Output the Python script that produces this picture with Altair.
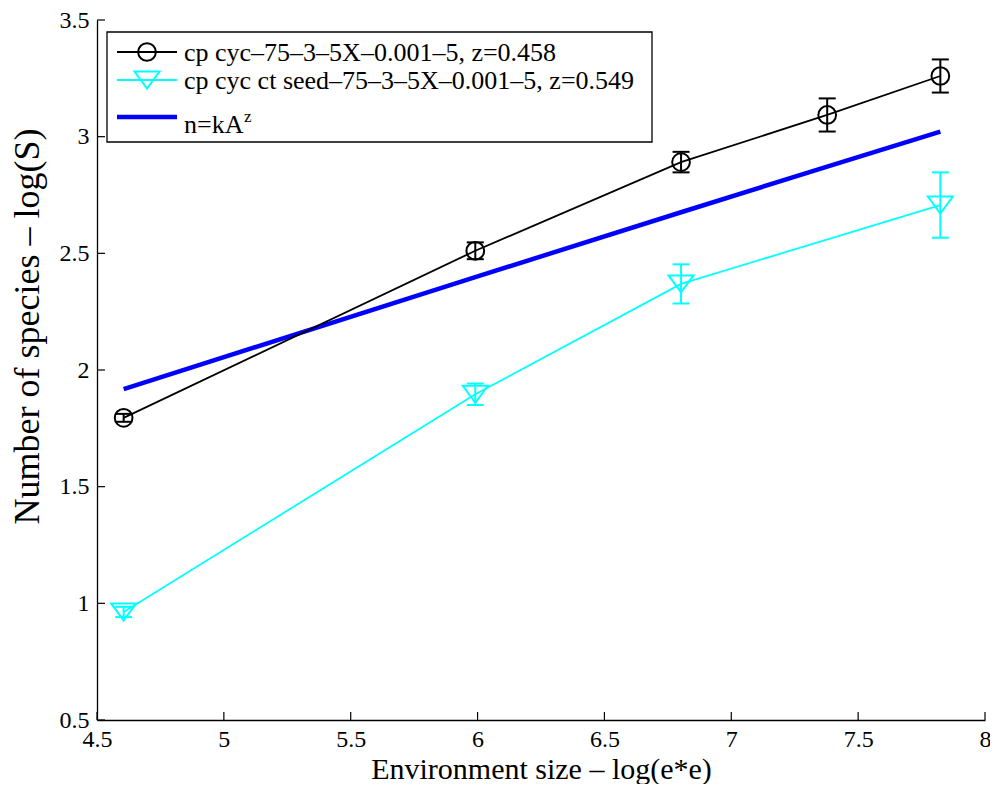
import altair as alt
import pandas as pd

# ---- data ----
x_env = [4.605, 5.991, 6.802, 7.378, 7.824]
cp_cyc = [1.795, 2.511, 2.891, 3.093, 3.260]
cp_cyc_err = [0.017, 0.036, 0.044, 0.071, 0.071]

x_seed = [4.605, 5.991, 6.802, 7.824]
cp_seed = [0.963, 1.896, 2.369, 2.707]
cp_seed_err = [0.022, 0.046, 0.084, 0.140]

fit_line = [1.918, 2.398, 2.676, 2.872, 3.022]

x_ticks = [4.5, 5, 5.5, 6, 6.5, 7, 7.5, 8]
y_ticks = [0.5, 1, 1.5, 2, 2.5, 3, 3.5]

legend_labels = [
    "cp cyc\u201375\u20133\u20135X\u20130.001\u20135, z=0.458",
    "cp cyc ct seed\u201375\u20133\u20135X\u20130.001\u20135, z=0.549",
    "n=kA",
]
x_title = "Environment size \u2013 log(e*e)"
y_title = "Number of species \u2013 log(S)"

FONT = "Liberation Serif"
W, H = 888, 700
CYAN = "#00FFFF"
BLUE = "#0000FF"
TRI = "M-1,-0.68L1,-0.68L0,0.68Z"

black_df = pd.DataFrame({
    "x": x_env, "y": cp_cyc,
    "lo": [v - e for v, e in zip(cp_cyc, cp_cyc_err)],
    "hi": [v + e for v, e in zip(cp_cyc, cp_cyc_err)],
})
cyan_df = pd.DataFrame({
    "x": x_seed, "y": cp_seed,
    "lo": [v - e for v, e in zip(cp_seed, cp_seed_err)],
    "hi": [v + e for v, e in zip(cp_seed, cp_seed_err)],
})
fit_df = pd.DataFrame({"x": x_env, "y": fit_line})
xt_df = pd.DataFrame({"x": x_ticks})
yt_df = pd.DataFrame({"y": y_ticks})
dummy = pd.DataFrame({"a": [0]})

x_scale = alt.Scale(domain=[4.5, 8], nice=False, zero=False)
y_scale = alt.Scale(domain=[0.5, 3.5], nice=False, zero=False)

x_axis = alt.Axis(
    values=x_ticks, format="~g", grid=False, ticks=False, tickSize=0,
    labelFont=FONT, labelFontSize=24, labelColor="black", labelPadding=26,
    labelBaseline="alphabetic", labelFlush=False, labelOverlap=False,
    domainColor="black", domainWidth=1.3,
    titleFont=FONT, titleFontSize=30, titleFontWeight="normal", titleColor="black",
    titleX=W / 2, titleY=58, titleAlign="center", titleBaseline="alphabetic",
)
y_axis = alt.Axis(
    values=y_ticks, format="~g", grid=False, ticks=False, tickSize=0,
    labelFont=FONT, labelFontSize=24, labelColor="black", labelPadding=8,
    labelBaseline="middle", labelAlign="right", labelFlush=False, labelOverlap=False,
    domainColor="black", domainWidth=1.3,
    titleFont=FONT, titleFontSize=36, titleFontWeight="normal", titleColor="black",
    titleAngle=270, titleX=-59, titleY=306, titleAlign="center", titleBaseline="alphabetic",
)


def X(field="x"):
    return alt.X(f"{field}:Q", scale=x_scale, axis=x_axis, title=x_title)


def Y(field="y"):
    return alt.Y(f"{field}:Q", scale=y_scale, axis=y_axis, title=y_title)


layers = []

# fitted power law
layers.append(alt.Chart(fit_df).mark_line(color=BLUE, strokeWidth=4.5).encode(x=X(), y=Y()))


def series(df, color, shape, size, lw):
    line = alt.Chart(df).mark_line(color=color, strokeWidth=lw).encode(x=X(), y=Y())
    bar = alt.Chart(df).mark_rule(color=color, strokeWidth=2).encode(
        x=X(), y=Y("lo"), y2="hi")
    cap_lo = alt.Chart(df).mark_tick(color=color, orient="horizontal", size=17,
                                     thickness=2, opacity=1).encode(x=X(), y=Y("lo"))
    cap_hi = alt.Chart(df).mark_tick(color=color, orient="horizontal", size=17,
                                     thickness=2, opacity=1).encode(x=X(), y=Y("hi"))
    pts = alt.Chart(df).mark_point(shape=shape, filled=False, size=size, strokeWidth=2,
                                   color=color, opacity=1).encode(x=X(), y=Y())
    return [line, bar, cap_lo, cap_hi, pts]


layers += series(black_df, "black", "circle", 314, 1.8)
layers += series(cyan_df, CYAN, TRI, 625, 1.8)

# inward axis ticks
layers.append(alt.Chart(xt_df).mark_rule(color="black", strokeWidth=1.2).encode(
    x=X(), y=alt.value(H), y2=alt.value(H - 8)))
layers.append(alt.Chart(yt_df).mark_rule(color="black", strokeWidth=1.2).encode(
    y=Y(), x=alt.value(0), x2=alt.value(8)))

# legend box
layers.append(alt.Chart(dummy).mark_rect(fill="white", stroke="black", strokeWidth=1.3).encode(
    x=alt.value(10), x2=alt.value(555), y=alt.value(12), y2=alt.value(122)))

leg_rows = [32, 60, 97]
leg_text_y = [41, 69, 113]
leg_colors = ["black", CYAN, BLUE]
for i in range(3):
    layers.append(alt.Chart(dummy).mark_rule(color=leg_colors[i],
                                             strokeWidth=4.5 if i == 2 else 1.8).encode(
        x=alt.value(20), x2=alt.value(80), y=alt.value(leg_rows[i])))
    layers.append(alt.Chart(dummy).mark_text(align="left", baseline="alphabetic", font=FONT,
                                             fontSize=26, color="black").encode(
        x=alt.value(87), y=alt.value(leg_text_y[i]), text=alt.value(legend_labels[i])))
layers.append(alt.Chart(dummy).mark_point(shape="circle", filled=False, size=314, strokeWidth=2,
                                          color="black", opacity=1).encode(
    x=alt.value(50), y=alt.value(leg_rows[0])))
layers.append(alt.Chart(dummy).mark_point(shape=TRI, filled=False, size=625, strokeWidth=2,
                                          color=CYAN, opacity=1).encode(
    x=alt.value(50), y=alt.value(leg_rows[1])))
layers.append(alt.Chart(dummy).mark_text(align="left", baseline="alphabetic", font=FONT,
                                         fontSize=17, color="black").encode(
    x=alt.value(147), y=alt.value(102), text=alt.value("z")))

chart = alt.layer(*layers).properties(
    width=W, height=H,
    padding={"left": 89, "top": 12, "right": 5, "bottom": 64},
    autosize=alt.AutoSizeParams(type="none"),
    background="white",
).configure_view(strokeWidth=0)

chart.save("out.html", embed_options={"renderer": "svg", "actions": False})
